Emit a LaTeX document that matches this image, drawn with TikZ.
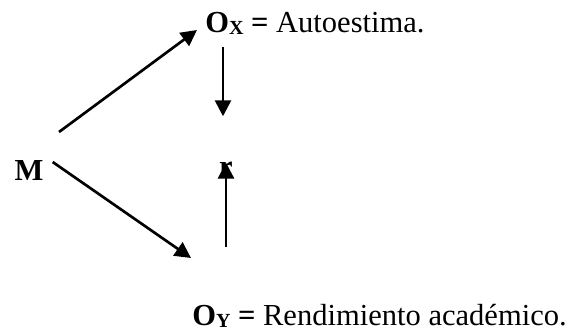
\documentclass[tikz,border=0pt]{standalone}
\usepackage{fontspec}
\setmainfont{Liberation Serif}
\usetikzlibrary{arrows.meta}
\newcommand{\subidx}[1]{\raisebox{-2pt}{\fontsize{15}{15}\selectfont\bfseries #1}}
\begin{document}
\begin{tikzpicture}[x=0.75pt,y=-0.75pt,
  every node/.style={font=\fontsize{22.9}{27}\selectfont,inner sep=0pt},
  negrita/.style={font=\fontsize{22.9}{27}\selectfont\bfseries},
  flecha/.style={-{Triangle[length=12pt,width=12pt]},line width=2pt}]
\useasboundingbox (0,0) rectangle (580,333);
% Variables del diseno correlacional
\node[negrita] (M) at (29,170) {M};
\node[anchor=base west] (ox) at (205,32) {\textbf{O\subidx{X} =} Autoestima.};
\node[negrita,anchor=base] (r) at (226,176) {r};
\node[anchor=base west] (oy) at (192,325) {\textbf{O\subidx{Y} =} Rendimiento acad\'emico.};
% Flechas
\draw[flecha] ([shift={(30,-38)}]M.center) -- ([shift={(-8,-2)}]ox.base west);
\draw[flecha] ([shift={(9,-8)}]M.east) -- ([shift={(-1,-67)}]oy.base west);
\draw[flecha] ([shift={(18,15)}]ox.base west) -- ([shift={(-3,-45)}]r.north);
\draw[flecha] ([shift={(34,-78)}]oy.base west) -- ([yshift=-1]r.north);
\end{tikzpicture}
\end{document}
